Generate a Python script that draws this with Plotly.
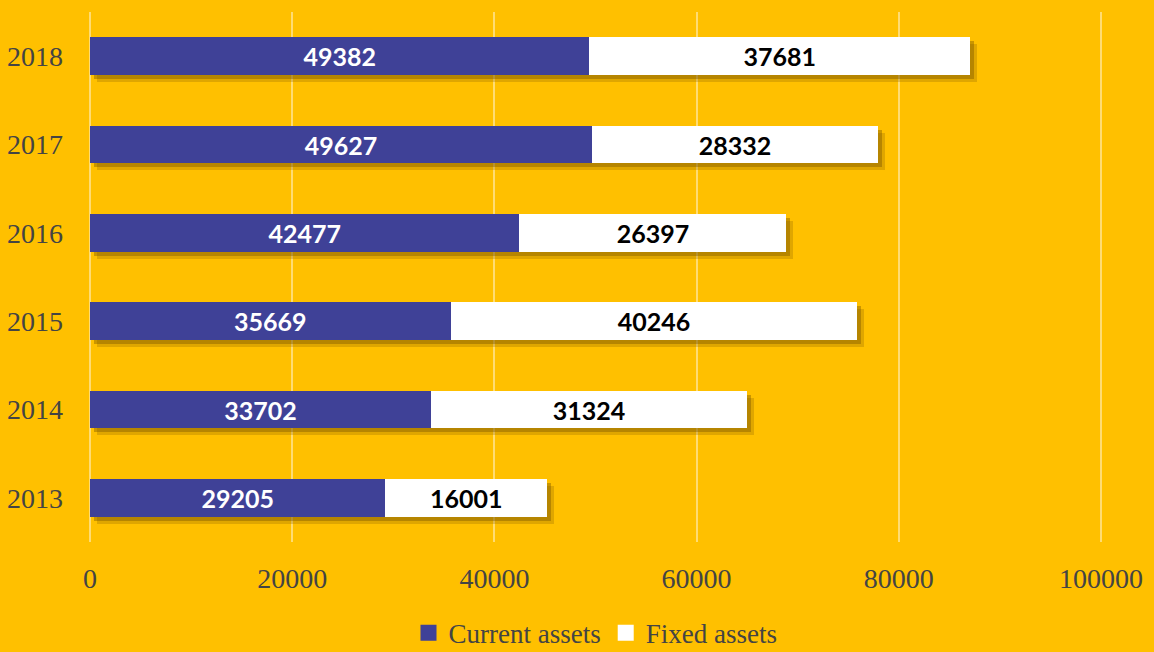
import plotly.graph_objects as go

years = ["2013", "2014", "2015", "2016", "2017", "2018"]
current_assets = [29205, 33702, 35669, 42477, 49627, 49382]
fixed_assets = [16001, 31324, 40246, 26397, 28332, 37681]
x_ticks = [0, 20000, 40000, 60000, 80000, 100000]
series_names = ["Current assets", "Fixed assets"]

totals = [c + f for c, f in zip(current_assets, fixed_assets)]

YELLOW = "#FFC000"
PURPLE = "#3F4197"
PAD = 200
XR = [-PAD, 100000 + PAD]
YR = [-0.5, 5.5]
px_x = (XR[1] - XR[0]) / 1015.0
px_y = 6 / 530.0
BW = 0.43

fig = go.Figure()
# soft drop shadow layers (drawn beneath the bars)
fig.add_trace(go.Bar(y=years, x=totals, orientation="h", width=BW,
                     marker=dict(color="rgba(150,105,0,0.30)", line=dict(width=0)),
                     xaxis="x", yaxis="y", showlegend=False, hoverinfo="skip"))
fig.add_trace(go.Bar(y=years, x=totals, orientation="h", width=BW,
                     marker=dict(color="rgba(120,85,0,0.40)", line=dict(width=0)),
                     xaxis="x2", yaxis="y2", showlegend=False, hoverinfo="skip"))
fig.add_trace(go.Bar(y=years, x=current_assets, orientation="h", name=series_names[0],
                     width=BW, marker=dict(color=PURPLE, line=dict(width=0)),
                     text=[str(v) for v in current_assets], textposition="inside",
                     insidetextanchor="middle", textangle=0,
                     textfont=dict(color="white", size=25, family="Lato", weight="bold"),
                     xaxis="x3", yaxis="y3", showlegend=False, legendgroup="c"))
fig.add_trace(go.Bar(y=years, x=fixed_assets, orientation="h", name=series_names[1],
                     width=BW, marker=dict(color="white", line=dict(width=0)),
                     text=[str(v) for v in fixed_assets], textposition="inside",
                     insidetextanchor="middle", textangle=0,
                     textfont=dict(color="black", size=25, family="Lato", weight="bold"),
                     xaxis="x3", yaxis="y3", showlegend=False, legendgroup="f"))
# legend entries with larger square swatches
for nm, col, grp in zip(series_names, [PURPLE, "white"], ["c", "f"]):
    fig.add_trace(go.Scatter(x=[None], y=[None], mode="markers", name=nm, legendgroup=grp,
                             marker=dict(symbol="square", size=17, color=col,
                                         line=dict(width=0)),
                             xaxis="x3", yaxis="y3"))

tickfont = dict(family="Liberation Serif", size=28, color="#444444")


def shifted(dx, dy):
    return (dict(range=[XR[0] - dx * px_x, XR[1] - dx * px_x], visible=False),
            dict(range=[YR[0] + dy * px_y, YR[1] + dy * px_y], visible=False, type="category"))


xa1, ya1 = shifted(7, 7)
xa2, ya2 = shifted(4, 4)
xa2["overlaying"] = "x"
ya2["overlaying"] = "y"

fig.update_layout(
    barmode="stack",
    width=1154, height=652,
    paper_bgcolor=YELLOW, plot_bgcolor=YELLOW,
    margin=dict(l=88, r=51, t=12, b=110, autoexpand=False),
    xaxis=xa1, yaxis=ya1, xaxis2=xa2, yaxis2=ya2,
    xaxis3=dict(range=XR, overlaying="x", side="bottom", tickvals=x_ticks,
                ticktext=[str(v) for v in x_ticks], showgrid=True,
                gridcolor="rgba(255,255,255,0.45)", gridwidth=2, zeroline=False,
                showline=False, ticks="", tickfont=tickfont, ticklabelstandoff=17,
                automargin=False),
    yaxis3=dict(range=YR, overlaying="y", side="left", type="category", showgrid=False,
                zeroline=False, showline=False, ticks="", tickfont=tickfont,
                ticklabelstandoff=24, automargin=False),
    legend=dict(orientation="h", x=0.5, xanchor="center", y=-0.172, yanchor="middle",
                font=dict(family="Liberation Serif", size=27, color="#444444"),
                bgcolor="rgba(0,0,0,0)", traceorder="normal", itemwidth=30,
                itemsizing="trace"),
    showlegend=True,
)
fig.write_html("out.html", post_script="document.body.style.margin='0';",
               config={"displayModeBar": False})
